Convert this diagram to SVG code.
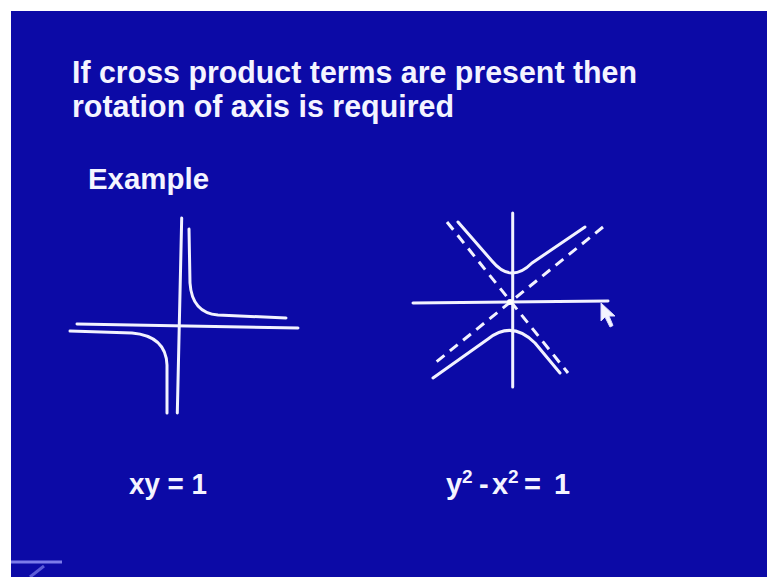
<svg xmlns="http://www.w3.org/2000/svg" width="767" height="577" viewBox="0 0 767 577">
<style>
.t{font-family:"Liberation Sans",Arial,sans-serif;font-weight:bold;fill:#f4f4ff}
.c{fill:none;stroke:#f2f2ff;stroke-width:3;stroke-linecap:round;stroke-linejoin:round}
.d{fill:none;stroke:#f2f2ff;stroke-width:3;stroke-dasharray:10 7}
</style>
<rect x="0" y="0" width="767" height="577" fill="#ffffff"/>
<rect x="11" y="11" width="756" height="566" fill="#0c0aa6"/>
<g id="title">
<text class="t" x="72" y="83" font-size="32" textLength="565" lengthAdjust="spacingAndGlyphs">If cross product terms are present then</text>
<text class="t" x="72" y="117" font-size="32" textLength="382" lengthAdjust="spacingAndGlyphs">rotation of axis is required</text>
</g>
<g id="example">
<text class="t" x="88" y="189" font-size="29" textLength="121" lengthAdjust="spacingAndGlyphs">Example</text>
</g>
<g id="graph-xy">
<path class="c" d="M181.7,218 L177.3,413"/>
<path class="c" d="M77,324 L298,328"/>
<path class="c" d="M189,229 L190,283 Q192,313 218,315 L286,318"/>
<path class="c" d="M70,331 L132,333 Q166,336 167,365 L167,413"/>
</g>
<g id="graph-hyperbola">
<path class="c" d="M512.7,213 L512.7,387"/>
<path class="c" d="M413,303 L608,301"/>
<path class="d" d="M447,222 L568,373"/>
<path class="d" d="M603,227 L435,363"/>
<path class="c" d="M458,222 L492,261 Q511,284 532,263 L585,227"/>
<path class="c" d="M433,378 L488,339 Q512,320 535,343 L560,373"/>
<circle cx="510" cy="302" r="3" fill="#ffffff"/>
</g>
<g id="cursor">
<path d="M601,303 L601,321 L605,317 L610,327 L613,325.5 L609,316 L615,316 Z" fill="#f4f4ff" stroke="#dcdcff" stroke-width="1"/>
</g>
<g id="labels">
<text class="t" x="129" y="494" font-size="29" textLength="78" lengthAdjust="spacingAndGlyphs">xy = 1</text>
<text class="t" y="494" font-size="29"><tspan x="446">y</tspan><tspan x="462" y="483" font-size="19">2</tspan><tspan x="479" y="494">-</tspan><tspan x="492">x</tspan><tspan x="508" y="483" font-size="19">2</tspan><tspan x="524" y="494">=</tspan><tspan x="554">1</tspan></text>
</g>
<g id="artifact">
<path d="M11,562 L62,562" stroke="#7c7cea" stroke-width="3"/>
<path d="M30,577 L44,566" stroke="#5c5cd8" stroke-width="3"/>
</g>
</svg>
